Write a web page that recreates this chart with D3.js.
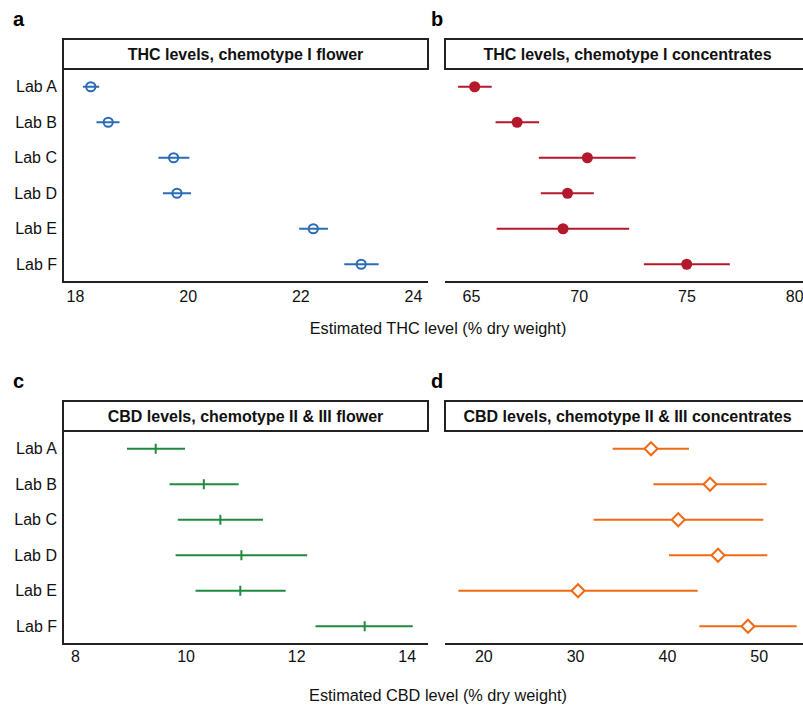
<!DOCTYPE html>
<html>
<head>
<meta charset="utf-8">
<script src="https://cdn.jsdelivr.net/npm/d3@7"></script>
<style>
  html, body { margin: 0; padding: 0; background: #fff; }
  svg { display: block; font-family: "Liberation Sans", Arial, sans-serif; }
</style>
</head>
<body>
<svg id="chart" width="803" height="706"></svg>
<script>
// ---------- data ----------
const labs = ["Lab A", "Lab B", "Lab C", "Lab D", "Lab E", "Lab F"];

const thcFlowerEst = [18.28, 18.59, 19.75, 19.81, 22.23, 23.08];
const thcFlowerLo  = [18.14, 18.38, 19.48, 19.56, 21.98, 22.78];
const thcFlowerHi  = [18.43, 18.79, 20.03, 20.06, 22.49, 23.39];

const thcConcEst = [65.17, 67.14, 70.40, 69.48, 69.27, 75.01];
const thcConcLo  = [64.40, 66.14, 68.15, 68.24, 66.19, 73.02];
const thcConcHi  = [65.96, 68.16, 72.64, 70.70, 72.34, 77.01];

const cbdFlowerEst = [9.46, 10.33, 10.63, 11.01, 10.99, 13.24];
const cbdFlowerLo  = [8.94, 9.71, 9.86, 9.82, 10.18, 12.35];
const cbdFlowerHi  = [9.99, 10.96, 11.40, 12.20, 11.81, 14.11];

const cbdConcEst = [38.27, 44.70, 41.24, 45.57, 30.32, 48.83];
const cbdConcLo  = [34.09, 38.52, 32.02, 40.23, 17.28, 43.53];
const cbdConcHi  = [42.40, 50.87, 50.50, 50.94, 43.35, 54.14];

const ticksA = [18, 20, 22, 24];
const ticksB = [65, 70, 75, 80];
const ticksC = [8, 10, 12, 14];
const ticksD = [20, 30, 40, 50];

const titleA = "THC levels, chemotype I flower";
const titleB = "THC levels, chemotype I concentrates";
const titleC = "CBD levels, chemotype II & III flower";
const titleD = "CBD levels, chemotype II & III concentrates";
const xTitleTop = "Estimated THC level (% dry weight)";
const xTitleBottom = "Estimated CBD level (% dry weight)";

// ---------- layout ----------
const svg = d3.select("#chart");
const dark = "#222";

const panels = [
  { letter: "a", title: titleA, left: 63, right: 428, top: 39, est: thcFlowerEst, lo: thcFlowerLo, hi: thcFlowerHi,
    ticks: ticksA, dom: [18, 24], rng: [75, 413], color: "#2b6cb6", shape: "ocircle", yAxis: true, pad: 8.5 },
  { letter: "b", title: titleB, left: 445, right: 810, top: 39, est: thcConcEst, lo: thcConcLo, hi: thcConcHi,
    ticks: ticksB, dom: [65, 75], rng: [471, 686.5], color: "#b3182d", shape: "fcircle", yAxis: false, pad: 8.5 },
  { letter: "c", title: titleC, left: 63, right: 428, top: 401, est: cbdFlowerEst, lo: cbdFlowerLo, hi: cbdFlowerHi,
    ticks: ticksC, dom: [8, 14], rng: [75, 406.7], color: "#1f8a3f", shape: "vline", yAxis: true, pad: 7 },
  { letter: "d", title: titleD, left: 445, right: 810, top: 401, est: cbdConcEst, lo: cbdConcLo, hi: cbdConcHi,
    ticks: ticksD, dom: [20, 50], rng: [483.3, 758.7], color: "#f06a14", shape: "diamond", yAxis: false, pad: 7 }
];

const stripH = 30, plotH = 213;

panels.forEach(p => {
  const g = svg.append("g");
  const stripTop = p.top, stripBot = p.top + stripH, plotBot = stripBot + plotH;

  // panel letter
  g.append("text").attr("x", p.left === 63 ? 13 : 431).attr("y", stripTop - 13)
    .attr("font-size", 20).attr("font-weight", "bold").attr("fill", "#000").text(p.letter);

  // strip
  g.append("rect").attr("x", p.left).attr("y", stripTop).attr("width", p.right - p.left).attr("height", stripH)
    .attr("fill", "#fff").attr("stroke", dark).attr("stroke-width", 2);
  g.append("text").attr("x", (p.left + p.right) / 2).attr("y", stripTop + 21)
    .attr("text-anchor", "middle").attr("font-size", 16).attr("font-weight", "bold").attr("fill", "#111").text(p.title);

  const x = d3.scaleLinear().domain(p.dom).range(p.rng);
  const y = d3.scalePoint().domain(labs).range([stripBot, plotBot]).padding(0.5);

  // bottom axis line + tick labels (no tick marks)
  const xAxis = d3.axisBottom(x).tickValues(p.ticks).tickSize(0).tickPadding(p.pad).tickFormat(d3.format("d"));
  const ax = g.append("g").attr("transform", `translate(0,${plotBot})`).call(xAxis);
  ax.select(".domain").remove();
  ax.selectAll("text").attr("font-size", 16).attr("fill", "#111").attr("font-family", "Liberation Sans, Arial, sans-serif");
  g.append("line").attr("x1", p.left).attr("x2", p.right).attr("y1", plotBot).attr("y2", plotBot)
    .attr("stroke", dark).attr("stroke-width", 2);

  if (p.yAxis) {
    const yAxis = d3.axisLeft(y).tickSize(0).tickPadding(6);
    const ay = g.append("g").attr("transform", `translate(${p.left},0)`).call(yAxis);
    ay.select(".domain").remove();
    ay.selectAll("text").attr("font-size", 16).attr("fill", "#111").attr("font-family", "Liberation Sans, Arial, sans-serif");
    g.append("line").attr("x1", p.left).attr("x2", p.left).attr("y1", stripBot).attr("y2", plotBot + 1)
      .attr("stroke", dark).attr("stroke-width", 2);
  }

  const rows = labs.map((l, i) => ({ lab: l, est: p.est[i], lo: p.lo[i], hi: p.hi[i] }));

  g.selectAll(".err").data(rows).join("line")
    .attr("x1", d => x(d.lo)).attr("x2", d => x(d.hi))
    .attr("y1", d => y(d.lab)).attr("y2", d => y(d.lab))
    .attr("stroke", p.color).attr("stroke-width", 2);

  if (p.shape === "ocircle") {
    g.selectAll(".pt").data(rows).join("circle")
      .attr("cx", d => x(d.est)).attr("cy", d => y(d.lab)).attr("r", 4.6)
      .attr("fill", "none").attr("stroke", p.color).attr("stroke-width", 2);
  } else if (p.shape === "fcircle") {
    g.selectAll(".pt").data(rows).join("circle")
      .attr("cx", d => x(d.est)).attr("cy", d => y(d.lab)).attr("r", 5.5)
      .attr("fill", p.color);
  } else if (p.shape === "vline") {
    g.selectAll(".pt").data(rows).join("line")
      .attr("x1", d => x(d.est)).attr("x2", d => x(d.est))
      .attr("y1", d => y(d.lab) - 5).attr("y2", d => y(d.lab) + 5)
      .attr("stroke", p.color).attr("stroke-width", 2);
  } else {
    const s = 6.5;
    g.selectAll(".pt").data(rows).join("path")
      .attr("d", d => { const cx = x(d.est), cy = y(d.lab);
        return `M${cx - s},${cy}L${cx},${cy - s}L${cx + s},${cy}L${cx},${cy + s}Z`; })
      .attr("fill", "#fff").attr("stroke", p.color).attr("stroke-width", 2);
  }
});

// x-axis titles
svg.append("text").attr("x", 438).attr("y", 334).attr("text-anchor", "middle")
  .attr("font-size", 16.3).attr("fill", "#111").text(xTitleTop);
svg.append("text").attr("x", 438).attr("y", 701).attr("text-anchor", "middle")
  .attr("font-size", 16.3).attr("fill", "#111").text(xTitleBottom);
</script>
</body>
</html>
